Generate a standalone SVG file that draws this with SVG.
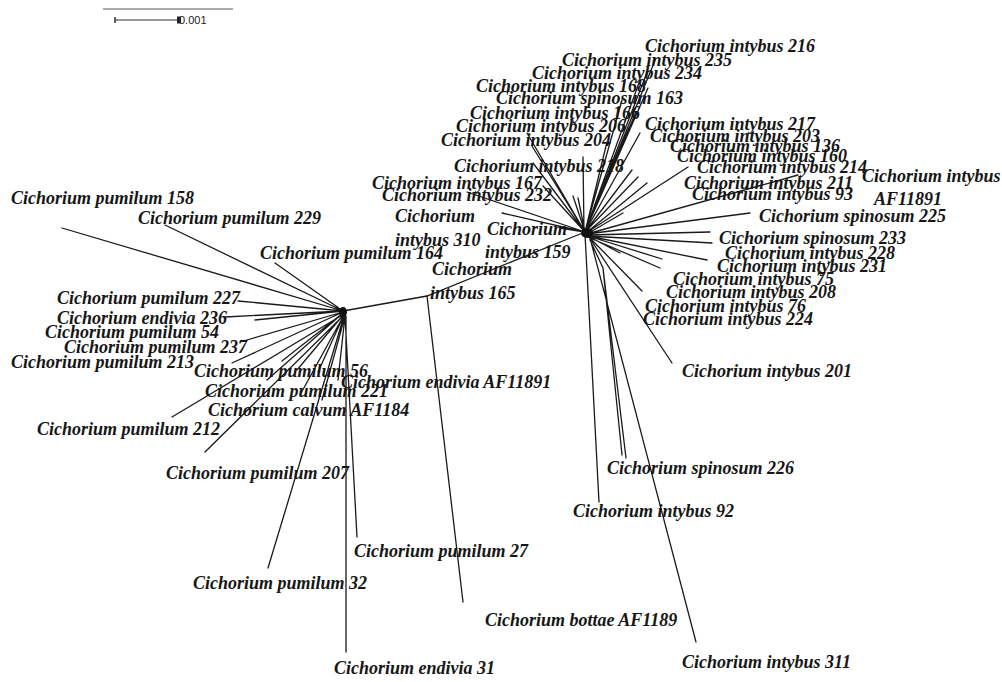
<svg xmlns="http://www.w3.org/2000/svg" width="1002" height="682" viewBox="0 0 1002 682">
<style>
.l{fill:#161616;font-family:"Liberation Serif","Times New Roman",serif;font-weight:bold;font-style:italic;font-size:18px}
.e{stroke:#1a1a1a;stroke-width:1.3;fill:none;stroke-linecap:round}
.s{fill:#222;font-family:"Liberation Sans",Arial,sans-serif;font-size:11px}
</style>
<rect width="1002" height="682" fill="#fff"/>
<g id="scale">
<line x1="103" y1="9" x2="233" y2="9" stroke="#555" stroke-width="1.2"/>
<line x1="115" y1="20" x2="180" y2="20" stroke="#333" stroke-width="1.2"/>
<line x1="115" y1="17" x2="115" y2="23" stroke="#333" stroke-width="1.5"/>
<rect x="177" y="16.5" width="4" height="7" fill="#222"/>
<text class="s" x="179" y="24">0.001</text>
</g>
<g id="connectors" class="e">
<!-- internal branches -->
<path d="M343 311 L427 296 L585 232"/>
<path d="M427 296 L463 602"/>
<!-- left hub -->
<path d="M343 311L62 228M343 311L165 225M343 311L275 263M343 311L238 301M343 311L225 317M343 311L255 320M343 312L240 342M343 312L232 363M343 313L282 361M344 314L172 417M344 315L205 452M344 316L268 568M346 316L346 652M345 316L357 537M344 315L318 372M345 316L338 380M344 315L300 395M345 316L322 400M344 314L297 370M343 313L267 380"/>
<!-- right hub upper -->
<path d="M585 232L656 58M585 232L648 70M585 232L640 80M585 232L648 88M585 232L622 100M585 232L636 112M585 232L629 128M585 232L607 142M584 232L583 157M585 232L527 133M585 232L532 146M585 232L533 163M585 232L573 196M585 232L578 198M585 232L543 186M585 232L467 192M585 232L502 213M585 232L560 228"/>
<!-- right hub right side -->
<path d="M585 232L640 133M585 232L632 170M585 232L638 177M586 233L647 183M586 233L688 167M587 234L798 175M587 234L623 213M587 234L750 213M588 235L710 232M588 236L712 243M588 236L707 260M588 237L660 268M588 236L620 253M588 236L662 259M589 237L642 291M589 237L672 363"/>
<!-- right hub downward -->
<path d="M585 234L599 502M590 240L603 268L622 455M603 268L626 458M590 238L696 642"/>
</g>
<ellipse cx="343" cy="312" rx="4" ry="5" fill="#111"/>
<ellipse cx="587" cy="233" rx="6" ry="5" fill="#111"/>
<g id="n-pumilum-158"><text class="l" x="11" y="204">Cichorium pumilum 158</text></g>
<g id="n-pumilum-229"><text class="l" x="138" y="224">Cichorium pumilum 229</text></g>
<g id="n-pumilum-164"><text class="l" x="260" y="259">Cichorium pumilum 164</text></g>
<g id="n-pumilum-227"><text class="l" x="57" y="304">Cichorium pumilum 227</text></g>
<g id="n-endivia-236"><text class="l" x="57" y="324">Cichorium endivia 236</text></g>
<g id="n-pumilum-54"><text class="l" x="45" y="338">Cichorium pumilum 54</text></g>
<g id="n-pumilum-237"><text class="l" x="64" y="353">Cichorium pumilum 237</text></g>
<g id="n-pumilum-213"><text class="l" x="11" y="368">Cichorium pumilum 213</text></g>
<g id="n-pumilum-56"><text class="l" x="194" y="377">Cichorium pumilum 56</text></g>
<g id="n-endivia-AF11891"><text class="l" x="341" y="388">Cichorium endivia AF11891</text></g>
<g id="n-pumilum-221"><text class="l" x="205" y="397">Cichorium pumilum 221</text></g>
<g id="n-calvum-AF1184"><text class="l" x="208" y="416">Cichorium calvum AF1184</text></g>
<g id="n-pumilum-212"><text class="l" x="37" y="435">Cichorium pumilum 212</text></g>
<g id="n-pumilum-207"><text class="l" x="166" y="479">Cichorium pumilum 207</text></g>
<g id="n-pumilum-27"><text class="l" x="354" y="557">Cichorium pumilum 27</text></g>
<g id="n-pumilum-32"><text class="l" x="193" y="589">Cichorium pumilum 32</text></g>
<g id="n-endivia-31"><text class="l" x="334" y="674">Cichorium endivia 31</text></g>
<g id="n-bottae-AF1189"><text class="l" x="485" y="626">Cichorium bottae AF1189</text></g>
<g id="n-intybus-216"><text class="l" x="645" y="52">Cichorium intybus 216</text></g>
<g id="n-intybus-235"><text class="l" x="562" y="66">Cichorium intybus 235</text></g>
<g id="n-intybus-234"><text class="l" x="532" y="79">Cichorium intybus 234</text></g>
<g id="n-intybus-168"><text class="l" x="476" y="92">Cichorium intybus 168</text></g>
<g id="n-spinosum-163"><text class="l" x="496" y="104">Cichorium spinosum 163</text></g>
<g id="n-intybus-166"><text class="l" x="470" y="119">Cichorium intybus 166</text></g>
<g id="n-intybus-206"><text class="l" x="456" y="132">Cichorium intybus 206</text></g>
<g id="n-intybus-204"><text class="l" x="441" y="146">Cichorium intybus 204</text></g>
<g id="n-intybus-218"><text class="l" x="454" y="172">Cichorium intybus 218</text></g>
<g id="n-intybus-167"><text class="l" x="372" y="189">Cichorium intybus 167</text></g>
<g id="n-intybus-232"><text class="l" x="382" y="201">Cichorium intybus 232</text></g>
<g id="n-intybus-310"><text class="l" x="395" y="222">Cichorium</text><text class="l" x="395" y="246">intybus 310</text></g>
<g id="n-intybus-159"><text class="l" x="487" y="235">Cichorium</text><text class="l" x="485" y="258">intybus 159</text></g>
<g id="n-intybus-165"><text class="l" x="432" y="275">Cichorium</text><text class="l" x="430" y="299">intybus 165</text></g>
<g id="n-intybus-217"><text class="l" x="645" y="130">Cichorium intybus 217</text></g>
<g id="n-intybus-203"><text class="l" x="650" y="142">Cichorium intybus 203</text></g>
<g id="n-intybus-136"><text class="l" x="670" y="152">Cichorium intybus 136</text></g>
<g id="n-intybus-160"><text class="l" x="677" y="162">Cichorium intybus 160</text></g>
<g id="n-intybus-214"><text class="l" x="697" y="173">Cichorium intybus 214</text></g>
<g id="n-intybus-AF11891"><text class="l" x="862" y="182">Cichorium intybus</text><text class="l" x="874" y="205">AF11891</text></g>
<g id="n-intybus-211"><text class="l" x="684" y="189">Cichorium intybus 211</text></g>
<g id="n-intybus-93"><text class="l" x="692" y="200">Cichorium intybus 93</text></g>
<g id="n-spinosum-225"><text class="l" x="759" y="222">Cichorium spinosum 225</text></g>
<g id="n-spinosum-233"><text class="l" x="719" y="244">Cichorium spinosum 233</text></g>
<g id="n-intybus-228"><text class="l" x="725" y="259">Cichorium intybus 228</text></g>
<g id="n-intybus-231"><text class="l" x="717" y="272">Cichorium intybus 231</text></g>
<g id="n-intybus-75"><text class="l" x="673" y="285">Cichorium intybus 75</text></g>
<g id="n-intybus-208"><text class="l" x="666" y="298">Cichorium intybus 208</text></g>
<g id="n-intybus-76"><text class="l" x="645" y="312">Cichorium intybus 76</text></g>
<g id="n-intybus-224"><text class="l" x="643" y="325">Cichorium intybus 224</text></g>
<g id="n-intybus-201"><text class="l" x="682" y="377">Cichorium intybus 201</text></g>
<g id="n-spinosum-226"><text class="l" x="607" y="474">Cichorium spinosum 226</text></g>
<g id="n-intybus-92"><text class="l" x="573" y="517">Cichorium intybus 92</text></g>
<g id="n-intybus-311"><text class="l" x="682" y="668">Cichorium intybus 311</text></g>
</svg>
